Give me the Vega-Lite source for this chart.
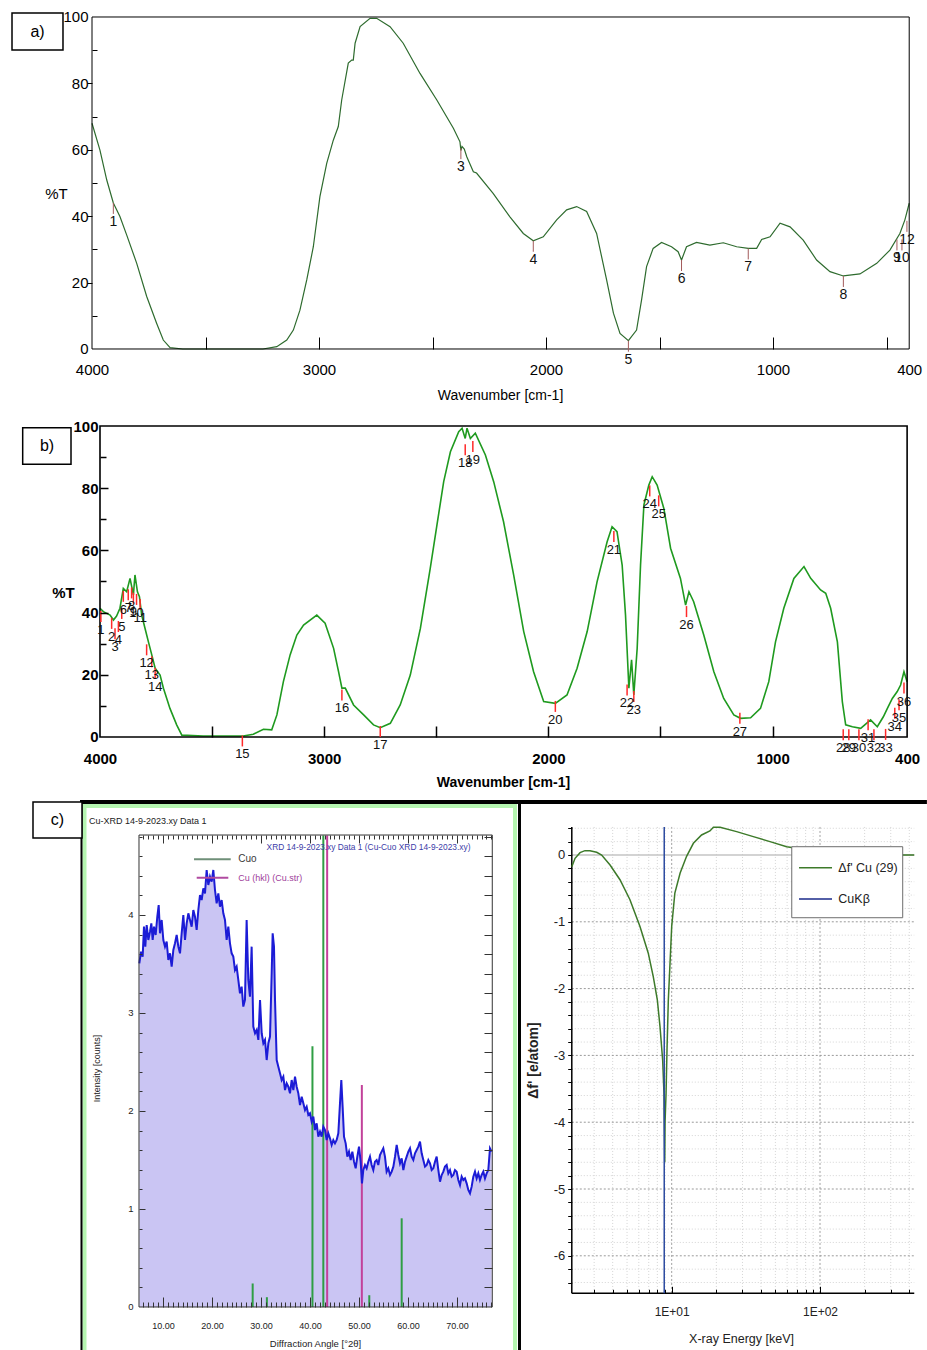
{
"$schema":"https://vega.github.io/schema/vega-lite/v6.json",
"width":927,"height":1350,"autosize":{"type":"none"},"padding":0,"background":"white",
"config":{"view":{"stroke":null},"axis":{"grid":false,"domain":false,"labelFlush":false,"labelOverlap":false,"tickColor":"#000","labelColor":"#000","titleColor":"#000","titleFontWeight":"normal"}},
"datasets":{
"ftirA":[{"wn":4000,"t":68.0},{"wn":3965,"t":59.9},{"wn":3935,"t":50.9},{"wn":3906,"t":44.0},{"wn":3877,"t":39.9},{"wn":3847,"t":34.3},{"wn":3803,"t":25.8},{"wn":3759,"t":15.8},{"wn":3715,"t":7.7},{"wn":3686,"t":2.7},{"wn":3656,"t":0.4},{"wn":3600,"t":0},{"wn":3400,"t":0},{"wn":3247,"t":0},{"wn":3186,"t":0.7},{"wn":3142,"t":2.7},{"wn":3113,"t":5.7},{"wn":3084,"t":11.7},{"wn":3054,"t":20.8},{"wn":3025,"t":30.8},{"wn":2996,"t":45.9},{"wn":2966,"t":55.9},{"wn":2937,"t":62.9},{"wn":2915,"t":67.0},{"wn":2900,"t":75.0},{"wn":2871,"t":86.1},{"wn":2856,"t":87.0},{"wn":2849,"t":87.0},{"wn":2841,"t":92.1},{"wn":2819,"t":97.1},{"wn":2775,"t":99.6},{"wn":2746,"t":99.6},{"wn":2687,"t":97.1},{"wn":2629,"t":92.1},{"wn":2555,"t":83.0},{"wn":2481,"t":75.0},{"wn":2408,"t":66.5},{"wn":2379,"t":62.4},{"wn":2375,"t":59.8},{"wn":2370,"t":61.0},{"wn":2360,"t":60.2},{"wn":2349,"t":57.9},{"wn":2320,"t":53.4},{"wn":2306,"t":53.0},{"wn":2233,"t":46.9},{"wn":2159,"t":39.8},{"wn":2100,"t":34.8},{"wn":2056,"t":32.6},{"wn":2012,"t":33.8},{"wn":1953,"t":38.9},{"wn":1909,"t":41.9},{"wn":1865,"t":42.9},{"wn":1821,"t":41.4},{"wn":1777,"t":34.8},{"wn":1733,"t":20.8},{"wn":1703,"t":10.8},{"wn":1674,"t":4.7},{"wn":1637,"t":2.5},{"wn":1601,"t":5.7},{"wn":1579,"t":14.8},{"wn":1557,"t":24.8},{"wn":1528,"t":30.3},{"wn":1491,"t":32.1},{"wn":1447,"t":30.8},{"wn":1418,"t":29.3},{"wn":1403,"t":26.8},{"wn":1381,"t":30.8},{"wn":1337,"t":32.1},{"wn":1278,"t":31.3},{"wn":1219,"t":32.0},{"wn":1160,"t":30.8},{"wn":1109,"t":30.3},{"wn":1072,"t":30.3},{"wn":1050,"t":33.0},{"wn":1013,"t":33.8},{"wn":969,"t":37.9},{"wn":925,"t":36.8},{"wn":867,"t":32.8},{"wn":808,"t":26.8},{"wn":749,"t":23.3},{"wn":690,"t":22.0},{"wn":617,"t":22.6},{"wn":543,"t":25.8},{"wn":485,"t":29.8},{"wn":441,"t":34.8},{"wn":419,"t":38.9},{"wn":400,"t":43.9}],
"peaksA":[{"n":"1","wn":3906,"t":44.0},{"n":"3","wn":2375,"t":60.5},{"n":"4","wn":2056,"t":32.6},{"n":"5","wn":1637,"t":2.5},{"n":"6","wn":1403,"t":26.8},{"n":"7","wn":1109,"t":30.3},{"n":"8","wn":690,"t":22.0},{"n":"9","wn":454,"t":33.0},{"n":"10","wn":432,"t":33.0},{"n":"12","wn":410,"t":38.6}],
"ftirB":[{"wn":4000,"t":41.4},{"wn":3985,"t":40.3},{"wn":3955,"t":39.2},{"wn":3940,"t":37.6},{"wn":3926,"t":38.9},{"wn":3911,"t":41.4},{"wn":3896,"t":47.8},{"wn":3881,"t":46.7},{"wn":3866,"t":51.0},{"wn":3851,"t":45.7},{"wn":3844,"t":52.1},{"wn":3833,"t":46.7},{"wn":3824,"t":45.1},{"wn":3814,"t":39.2},{"wn":3799,"t":34.9},{"wn":3784,"t":30.6},{"wn":3769,"t":26.4},{"wn":3754,"t":22.1},{"wn":3732,"t":19.9},{"wn":3717,"t":15.7},{"wn":3688,"t":9.2},{"wn":3658,"t":3.9},{"wn":3635,"t":0.6},{"wn":3540,"t":0.3},{"wn":3361,"t":0.3},{"wn":3316,"t":0.9},{"wn":3271,"t":2.5},{"wn":3234,"t":2.3},{"wn":3211,"t":7.1},{"wn":3182,"t":17.8},{"wn":3152,"t":26.4},{"wn":3122,"t":32.8},{"wn":3092,"t":36.0},{"wn":3033,"t":39.2},{"wn":2996,"t":36.6},{"wn":2958,"t":28.5},{"wn":2936,"t":21.0},{"wn":2921,"t":15.7},{"wn":2906,"t":15.7},{"wn":2869,"t":10.3},{"wn":2824,"t":7.1},{"wn":2780,"t":3.9},{"wn":2750,"t":3.0},{"wn":2705,"t":4.4},{"wn":2661,"t":10.3},{"wn":2616,"t":19.9},{"wn":2571,"t":34.9},{"wn":2527,"t":54.2},{"wn":2497,"t":68.2},{"wn":2467,"t":82.1},{"wn":2437,"t":91.7},{"wn":2400,"t":98.2},{"wn":2385,"t":99.3},{"wn":2371,"t":96.0},{"wn":2363,"t":99.3},{"wn":2348,"t":96.0},{"wn":2326,"t":97.7},{"wn":2281,"t":90.7},{"wn":2244,"t":82.1},{"wn":2200,"t":69.2},{"wn":2155,"t":52.1},{"wn":2110,"t":33.9},{"wn":2066,"t":21.0},{"wn":2021,"t":11.4},{"wn":1969,"t":10.8},{"wn":1917,"t":13.5},{"wn":1872,"t":22.1},{"wn":1827,"t":33.9},{"wn":1783,"t":49.9},{"wn":1738,"t":62.8},{"wn":1716,"t":67.6},{"wn":1694,"t":66.0},{"wn":1671,"t":55.3},{"wn":1656,"t":39.2},{"wn":1641,"t":15.7},{"wn":1629,"t":24.8},{"wn":1619,"t":13.5},{"wn":1604,"t":28.5},{"wn":1589,"t":55.3},{"wn":1574,"t":74.6},{"wn":1552,"t":81.0},{"wn":1537,"t":83.7},{"wn":1515,"t":81.0},{"wn":1485,"t":73.5},{"wn":1455,"t":60.7},{"wn":1411,"t":51.0},{"wn":1388,"t":42.4},{"wn":1373,"t":46.7},{"wn":1352,"t":43.5},{"wn":1307,"t":32.8},{"wn":1262,"t":21.0},{"wn":1218,"t":12.4},{"wn":1173,"t":7.1},{"wn":1143,"t":6.0},{"wn":1098,"t":6.2},{"wn":1054,"t":9.2},{"wn":1017,"t":17.8},{"wn":987,"t":30.6},{"wn":950,"t":41.4},{"wn":905,"t":51.0},{"wn":860,"t":54.8},{"wn":830,"t":51.0},{"wn":786,"t":47.3},{"wn":763,"t":46.2},{"wn":741,"t":41.4},{"wn":711,"t":30.6},{"wn":689,"t":11.4},{"wn":674,"t":3.9},{"wn":644,"t":3.3},{"wn":607,"t":2.8},{"wn":563,"t":5.5},{"wn":533,"t":3.3},{"wn":506,"t":6.5},{"wn":488,"t":9.2},{"wn":466,"t":12.4},{"wn":444,"t":14.6},{"wn":429,"t":16.7},{"wn":414,"t":21.0},{"wn":400,"t":17.8}],
"peaksB":[{"n":"1","wn":3996,"t":40.5},{"n":"2","wn":3948,"t":38.3},{"n":"3","wn":3933,"t":35.0},{"n":"4","wn":3918,"t":37.3},{"n":"5","wn":3903,"t":41.5},{"n":"6","wn":3896,"t":47.0},{"n":"7","wn":3874,"t":47.5},{"n":"8","wn":3859,"t":48.1},{"n":"9","wn":3851,"t":46.4},{"n":"10","wn":3837,"t":46.0},{"n":"11","wn":3821,"t":44.4},{"n":"12","wn":3792,"t":29.8},{"n":"13","wn":3769,"t":26.0},{"n":"14","wn":3754,"t":22.3},{"n":"15","wn":3365,"t":0.5},{"n":"16","wn":2921,"t":15.3},{"n":"17","wn":2750,"t":3.5},{"n":"18","wn":2371,"t":94.1},{"n":"19","wn":2337,"t":95.2},{"n":"20","wn":1969,"t":11.6},{"n":"21","wn":1708,"t":66.2},{"n":"22","wn":1649,"t":16.9},{"n":"23","wn":1619,"t":14.8},{"n":"24","wn":1548,"t":80.9},{"n":"25","wn":1508,"t":77.7},{"n":"26","wn":1384,"t":42.1},{"n":"27","wn":1146,"t":7.8},{"n":"28","wn":685,"t":2.5},{"n":"29","wn":660,"t":2.5},{"n":"30","wn":615,"t":2.5},{"n":"31","wn":574,"t":5.7},{"n":"32","wn":548,"t":2.5},{"n":"33","wn":496,"t":2.6},{"n":"34","wn":455,"t":9.4},{"n":"35","wn":436,"t":12.1},{"n":"36","wn":414,"t":17.5}],
"xrd":[{"a":5.17,"i":3.507},{"a":5.51,"i":3.626},{"a":5.85,"i":3.575},{"a":6.12,"i":3.881},{"a":6.39,"i":3.677},{"a":6.67,"i":3.898},{"a":7.01,"i":3.745},{"a":7.35,"i":3.83},{"a":7.62,"i":3.915},{"a":7.89,"i":3.745},{"a":8.16,"i":3.881},{"a":8.5,"i":3.796},{"a":8.84,"i":3.983},{"a":9.12,"i":4.102},{"a":9.39,"i":3.813},{"a":9.73,"i":3.949},{"a":10.07,"i":3.745},{"a":10.41,"i":3.677},{"a":10.75,"i":3.728},{"a":11.09,"i":3.541},{"a":11.43,"i":3.609},{"a":11.77,"i":3.473},{"a":12.11,"i":3.643},{"a":12.45,"i":3.711},{"a":12.79,"i":3.796},{"a":13.13,"i":3.677},{"a":13.47,"i":3.609},{"a":13.81,"i":3.813},{"a":14.15,"i":4.0},{"a":14.49,"i":3.745},{"a":14.83,"i":3.915},{"a":15.17,"i":4.017},{"a":15.51,"i":3.949},{"a":15.85,"i":3.881},{"a":16.19,"i":4.051},{"a":16.53,"i":3.983},{"a":16.87,"i":3.847},{"a":17.21,"i":4.051},{"a":17.55,"i":4.204},{"a":17.89,"i":4.153},{"a":18.23,"i":4.272},{"a":18.57,"i":4.221},{"a":18.91,"i":4.459},{"a":19.25,"i":4.306},{"a":19.59,"i":4.391},{"a":19.93,"i":4.34},{"a":20.27,"i":4.459},{"a":20.61,"i":4.255},{"a":20.95,"i":4.119},{"a":21.29,"i":4.221},{"a":21.63,"i":4.085},{"a":21.97,"i":4.153},{"a":22.31,"i":4.017},{"a":22.65,"i":3.949},{"a":22.99,"i":3.745},{"a":23.33,"i":3.881},{"a":23.67,"i":3.711},{"a":24.01,"i":3.609},{"a":24.35,"i":3.575},{"a":24.69,"i":3.439},{"a":25.03,"i":3.473},{"a":25.37,"i":3.337},{"a":25.71,"i":3.201},{"a":26.05,"i":3.269},{"a":26.39,"i":3.065},{"a":26.73,"i":3.133},{"a":27.07,"i":3.949},{"a":27.41,"i":3.337},{"a":27.75,"i":3.167},{"a":28.09,"i":3.677},{"a":28.43,"i":2.861},{"a":28.78,"i":2.793},{"a":29.12,"i":2.827},{"a":29.46,"i":2.725},{"a":29.8,"i":3.133},{"a":30.14,"i":2.793},{"a":30.48,"i":2.691},{"a":30.82,"i":2.725},{"a":31.16,"i":2.52},{"a":31.5,"i":2.691},{"a":31.84,"i":2.759},{"a":32.18,"i":3.405},{"a":32.38,"i":3.813},{"a":32.65,"i":3.677},{"a":32.86,"i":3.133},{"a":33.2,"i":2.52},{"a":33.54,"i":2.452},{"a":33.88,"i":2.384},{"a":34.22,"i":2.316},{"a":34.56,"i":2.35},{"a":34.9,"i":2.214},{"a":35.24,"i":2.282},{"a":35.58,"i":2.248},{"a":35.92,"i":2.18},{"a":36.26,"i":2.316},{"a":36.6,"i":2.214},{"a":36.94,"i":2.35},{"a":37.28,"i":2.248},{"a":37.62,"i":2.18},{"a":37.96,"i":2.061},{"a":38.3,"i":2.146},{"a":38.64,"i":2.078},{"a":38.98,"i":2.01},{"a":39.32,"i":2.044},{"a":39.66,"i":1.959},{"a":40.0,"i":1.976},{"a":40.34,"i":1.891},{"a":40.68,"i":1.942},{"a":41.02,"i":1.806},{"a":41.36,"i":1.874},{"a":41.7,"i":1.738},{"a":42.04,"i":1.789},{"a":42.38,"i":1.738},{"a":42.72,"i":1.84},{"a":43.06,"i":1.806},{"a":43.4,"i":1.704},{"a":43.74,"i":1.772},{"a":44.08,"i":1.721},{"a":44.42,"i":1.653},{"a":44.76,"i":1.704},{"a":45.1,"i":1.67},{"a":45.44,"i":1.704},{"a":45.78,"i":1.772},{"a":46.12,"i":2.078},{"a":46.39,"i":2.316},{"a":46.66,"i":2.044},{"a":46.94,"i":1.738},{"a":47.28,"i":1.67},{"a":47.62,"i":1.534},{"a":47.96,"i":1.585},{"a":48.3,"i":1.5},{"a":48.64,"i":1.585},{"a":48.98,"i":1.483},{"a":49.32,"i":1.415},{"a":49.66,"i":1.534},{"a":50.0,"i":1.636},{"a":50.34,"i":1.483},{"a":50.61,"i":1.262},{"a":50.88,"i":1.398},{"a":51.22,"i":1.449},{"a":51.56,"i":1.415},{"a":51.9,"i":1.483},{"a":52.24,"i":1.534},{"a":52.58,"i":1.449},{"a":52.92,"i":1.398},{"a":53.26,"i":1.483},{"a":53.6,"i":1.5},{"a":53.94,"i":1.449},{"a":54.28,"i":1.551},{"a":54.62,"i":1.585},{"a":54.96,"i":1.619},{"a":55.3,"i":1.534},{"a":55.64,"i":1.381},{"a":55.98,"i":1.415},{"a":56.33,"i":1.347},{"a":56.67,"i":1.381},{"a":57.01,"i":1.432},{"a":57.35,"i":1.534},{"a":57.69,"i":1.653},{"a":58.03,"i":1.551},{"a":58.37,"i":1.466},{"a":58.71,"i":1.517},{"a":59.05,"i":1.398},{"a":59.39,"i":1.483},{"a":59.73,"i":1.534},{"a":60.07,"i":1.585},{"a":60.41,"i":1.619},{"a":60.75,"i":1.534},{"a":61.09,"i":1.5},{"a":61.43,"i":1.568},{"a":61.77,"i":1.602},{"a":62.11,"i":1.636},{"a":62.45,"i":1.687},{"a":62.79,"i":1.568},{"a":63.13,"i":1.5},{"a":63.47,"i":1.432},{"a":63.81,"i":1.449},{"a":64.15,"i":1.5},{"a":64.49,"i":1.466},{"a":64.83,"i":1.398},{"a":65.17,"i":1.415},{"a":65.51,"i":1.483},{"a":65.85,"i":1.534},{"a":66.19,"i":1.398},{"a":66.53,"i":1.279},{"a":66.87,"i":1.347},{"a":67.21,"i":1.381},{"a":67.55,"i":1.432},{"a":67.89,"i":1.449},{"a":68.23,"i":1.364},{"a":68.57,"i":1.398},{"a":68.91,"i":1.33},{"a":69.25,"i":1.347},{"a":69.59,"i":1.398},{"a":69.93,"i":1.381},{"a":70.27,"i":1.296},{"a":70.61,"i":1.245},{"a":70.95,"i":1.33},{"a":71.29,"i":1.296},{"a":71.63,"i":1.313},{"a":71.97,"i":1.262},{"a":72.31,"i":1.194},{"a":72.65,"i":1.16},{"a":72.99,"i":1.228},{"a":73.33,"i":1.33},{"a":73.67,"i":1.381},{"a":74.01,"i":1.313},{"a":74.35,"i":1.364},{"a":74.69,"i":1.296},{"a":75.03,"i":1.347},{"a":75.37,"i":1.381},{"a":75.71,"i":1.313},{"a":76.05,"i":1.364},{"a":76.39,"i":1.398},{"a":76.73,"i":1.619},{"a":77.07,"i":1.585}],
"sticks":[{"a":28.3,"h":0.24,"p":"Cuo"},{"a":31.2,"h":0.1,"p":"Cuo"},{"a":40.5,"h":2.66,"p":"Cuo"},{"a":42.72,"h":4.81,"p":"Cuo"},{"a":52.1,"h":0.12,"p":"Cuo"},{"a":58.71,"h":0.905,"p":"Cuo"},{"a":43.5,"h":4.81,"p":"Cu"},{"a":50.58,"h":2.265,"p":"Cu"}],
"asf":[{"e":2.12,"f":-0.175},{"e":2.23,"f":-0.05},{"e":2.41,"f":0.035},{"e":2.6,"f":0.065},{"e":2.81,"f":0.065},{"e":3.12,"f":0.04},{"e":3.37,"f":0.0},{"e":3.84,"f":-0.15},{"e":4.48,"f":-0.37},{"e":5.23,"f":-0.67},{"e":6.11,"f":-1.07},{"e":6.95,"f":-1.47},{"e":7.51,"f":-1.82},{"e":8.0,"f":-2.17},{"e":8.34,"f":-2.57},{"e":8.69,"f":-3.07},{"e":8.87,"f":-3.57},{"e":8.95,"f":-4.3},{"e":8.98,"f":-4.6},{"e":9.02,"f":-4.0},{"e":9.16,"f":-3.57},{"e":9.3,"f":-2.9},{"e":9.49,"f":-2.17},{"e":10.0,"f":-1.07},{"e":10.5,"f":-0.57},{"e":11.4,"f":-0.27},{"e":12.6,"f":-0.02},{"e":14.0,"f":0.175},{"e":15.9,"f":0.3},{"e":18.1,"f":0.36},{"e":19.1,"f":0.415},{"e":21.2,"f":0.415},{"e":27.4,"f":0.35},{"e":35.5,"f":0.275},{"e":46.0,"f":0.2},{"e":59.6,"f":0.125},{"e":66.1,"f":0.11},{"e":120,"f":0.04},{"e":200,"f":0.01},{"e":300,"f":0.0},{"e":432,"f":0.0}],
"gridE":[{"e":3,"major":false},{"e":4,"major":false},{"e":5,"major":false},{"e":6,"major":false},{"e":7,"major":false},{"e":8,"major":false},{"e":9,"major":false},{"e":10,"major":true},{"e":20,"major":false},{"e":30,"major":false},{"e":40,"major":false},{"e":50,"major":false},{"e":60,"major":false},{"e":70,"major":false},{"e":80,"major":false},{"e":90,"major":false},{"e":100,"major":true},{"e":200,"major":false},{"e":300,"major":false},{"e":400,"major":false}],
"gridF":[{"f":0.4,"major":false},{"f":0.2,"major":false},{"f":-0.2,"major":false},{"f":-0.4,"major":false},{"f":-0.6,"major":false},{"f":-0.8,"major":false},{"f":-1,"major":true},{"f":-1.2,"major":false},{"f":-1.4,"major":false},{"f":-1.6,"major":false},{"f":-1.8,"major":false},{"f":-2,"major":true},{"f":-2.2,"major":false},{"f":-2.4,"major":false},{"f":-2.6,"major":false},{"f":-2.8,"major":false},{"f":-3,"major":true},{"f":-3.2,"major":false},{"f":-3.4,"major":false},{"f":-3.6,"major":false},{"f":-3.8,"major":false},{"f":-4,"major":true},{"f":-4.2,"major":false},{"f":-4.4,"major":false},{"f":-4.6,"major":false},{"f":-4.8,"major":false},{"f":-5,"major":true},{"f":-5.2,"major":false},{"f":-5.4,"major":false},{"f":-5.6,"major":false},{"f":-5.8,"major":false},{"f":-6,"major":true},{"f":-6.2,"major":false},{"f":-6.4,"major":false}]
},
"resolve":{"scale":{"x":"independent","y":"independent"},"axis":{"x":"independent","y":"independent"}},
"layer":[
{"resolve":{"axis":{"x":"independent","y":"independent"}},
 "layer":[
  {"data":{"name":"ftirA"},"mark":{"type":"line","color":"#2e6b2e","strokeWidth":1.2},
   "encoding":{
    "x":{"field":"wn","type":"quantitative","scale":{"domain":[4405.29,321.6],"nice":false,"zero":false},
     "axis":{"orient":"bottom","offset":-1001,"values":[4000,3000,2000,1000,400],"format":"d","ticks":false,"labelPadding":13,"labelFont":"Liberation Sans, sans-serif","labelFontSize":15,"title":"Wavenumber [cm-1]","titleFont":"Liberation Sans, sans-serif","titleFontSize":14,"titleX":500,"titleY":46,"titleAlign":"center","titleBaseline":"middle","zindex":1}},
    "y":{"field":"t","type":"quantitative","scale":{"domain":[-301.51,105.12],"nice":false,"zero":false},
     "axis":{"orient":"left","offset":-92,"values":[0,20,40,60,80,100],"format":"d","ticks":false,"labelPadding":4,"labelFont":"Liberation Sans, sans-serif","labelFontSize":15,"title":"%T","titleFont":"Liberation Sans, sans-serif","titleFontSize":15,"titleAngle":0,"titleX":-36,"titleY":193,"titleAlign":"center","titleBaseline":"middle","zindex":1}}}},
  {"data":{"values":[{}]},"mark":{"type":"rect","filled":false,"color":"#000","strokeWidth":1},
   "encoding":{
    "x":{"datum":4000,"type":"quantitative","axis":{"orient":"bottom","offset":-1001,"values":[3500,3000,2500,2000,1500,1000,500],"labels":false,"tickSize":-12,"title":null,"zindex":1}},
    "x2":{"datum":400},
    "y":{"datum":0,"type":"quantitative","axis":{"orient":"left","offset":-92,"values":[10,20,30,40,50,60,70,80,90],"labels":false,"tickSize":{"condition":{"test":"datum.value % 20 === 0","value":5},"value":-5},"title":null,"zindex":1}},
    "y2":{"datum":100}}},
  {"data":{"name":"peaksA"},"mark":{"type":"rule","color":"#a35b5b","strokeWidth":1,"y2Offset":11},
   "encoding":{"x":{"field":"wn","type":"quantitative","axis":null},"y":{"field":"t","type":"quantitative","axis":null},"y2":{"field":"t"}}},
  {"data":{"name":"peaksA"},"mark":{"type":"text","dy":19,"font":"Liberation Sans, sans-serif","fontSize":14,"color":"#111"},
   "encoding":{"x":{"field":"wn","type":"quantitative","axis":null},"y":{"field":"t","type":"quantitative","axis":null},"text":{"field":"n"}}},
  {"data":{"values":[{}]},"mark":{"type":"rect","fill":"white","stroke":"#000","strokeWidth":1.5},
   "encoding":{"x":{"datum":4352.4,"type":"quantitative","axis":null},"x2":{"datum":4127.8},"y":{"datum":101.2,"type":"quantitative","axis":null},"y2":{"datum":90.06}}},
  {"data":{"values":[{}]},"mark":{"type":"text","text":"a)","font":"Liberation Sans, sans-serif","fontSize":16,"color":"#000"},
   "encoding":{"x":{"datum":4240,"type":"quantitative","axis":null},"y":{"datum":95.5,"type":"quantitative","axis":null}}}
 ]},
{"resolve":{"axis":{"x":"independent","y":"independent"}},
 "layer":[
  {"data":{"name":"ftirB"},"mark":{"type":"line","color":"#1f9a1f","strokeWidth":1.6},
   "encoding":{
    "x":{"field":"wn","type":"quantitative","scale":{"domain":[4446.0,311.3],"nice":false,"zero":false},
     "axis":{"orient":"bottom","offset":-613,"values":[4000,3000,2000,1000,400],"format":"d","ticks":false,"labelPadding":14,"labelFont":"Liberation Sans, sans-serif","labelFontSize":15,"labelFontWeight":"bold","title":"Wavenumber [cm-1]","titleFont":"Liberation Sans, sans-serif","titleFontSize":14,"titleFontWeight":"bold","titleX":503,"titleY":45,"titleAlign":"center","titleBaseline":"middle","zindex":1}},
    "y":{"field":"t","type":"quantitative","scale":{"domain":[-197.11,236.98],"nice":false,"zero":false},
     "axis":{"orient":"left","offset":-100,"values":[0,20,40,60,80,100],"format":"d","ticks":false,"labelPadding":2,"labelFont":"Liberation Sans, sans-serif","labelFontSize":15,"labelFontWeight":"bold","title":"%T","titleFont":"Liberation Sans, sans-serif","titleFontSize":15,"titleFontWeight":"bold","titleAngle":0,"titleX":-37,"titleY":592,"titleAlign":"center","titleBaseline":"middle","zindex":1}}}},
  {"data":{"values":[{}]},"mark":{"type":"rect","filled":false,"color":"#000","strokeWidth":1.6},
   "encoding":{
    "x":{"datum":4000,"type":"quantitative","axis":{"orient":"bottom","offset":-613,"values":[3500,3000,2500,2000,1500,1000],"labels":false,"tickSize":-11,"tickWidth":1.5,"title":null,"zindex":1}},
    "x2":{"datum":400},
    "y":{"datum":0,"type":"quantitative","axis":{"orient":"left","offset":-100,"values":[10,20,30,40,50,60,70,80,90],"labels":false,"tickWidth":1.5,"tickSize":{"condition":{"test":"datum.value % 20 === 0","value":-8},"value":-6},"title":null,"zindex":1}},
    "y2":{"datum":100}}},
  {"data":{"name":"peaksB"},"mark":{"type":"rule","color":"#ff2a2a","strokeWidth":1.5,"y2Offset":11},
   "encoding":{"x":{"field":"wn","type":"quantitative","axis":null},"y":{"field":"t","type":"quantitative","axis":null},"y2":{"field":"t"}}},
  {"data":{"name":"peaksB"},"mark":{"type":"text","dy":19,"font":"Liberation Sans, sans-serif","fontSize":13,"color":"#111"},
   "encoding":{"x":{"field":"wn","type":"quantitative","axis":null},"y":{"field":"t","type":"quantitative","axis":null},"text":{"field":"n"}}},
  {"data":{"values":[{}]},"mark":{"type":"rect","fill":"white","stroke":"#000","strokeWidth":1.5},
   "encoding":{"x":{"datum":4344.8,"type":"quantitative","axis":null},"x2":{"datum":4129.3},"y":{"datum":99.45,"type":"quantitative","axis":null},"y2":{"datum":87.69}}},
  {"data":{"values":[{}]},"mark":{"type":"text","text":"b)","font":"Liberation Sans, sans-serif","fontSize":16,"color":"#000"},
   "encoding":{"x":{"datum":4236.4,"type":"quantitative","axis":null},"y":{"datum":93.57,"type":"quantitative","axis":null}}}
 ]},
{"resolve":{"axis":{"x":"independent","y":"independent"}},
 "layer":[
  {"data":{"name":"xrd"},"mark":{"type":"area","color":"#cac5f3","opacity":1},
   "encoding":{
    "x":{"field":"a","type":"quantitative","scale":{"domain":[-23.265,165.918],"nice":false,"zero":false},
     "axis":{"orient":"bottom","offset":-43,"values":[10,20,30,40,50,60,70],"format":".2f","ticks":false,"labelPadding":14,"labelFont":"Liberation Sans, sans-serif","labelFontSize":9,"labelColor":"#222","title":"Diffraction Angle [°2θ]","titleFont":"Liberation Sans, sans-serif","titleFontSize":9.5,"titleColor":"#222","titleX":315,"titleY":36,"titleAlign":"center","titleBaseline":"middle","zindex":1}},
    "y":{"field":"i","type":"quantitative","scale":{"domain":[-0.4388,13.3367],"nice":false,"zero":false},
     "axis":{"orient":"left","offset":-139,"values":[0,1,2,3,4],"ticks":false,"labelPadding":6,"labelFont":"Liberation Sans, sans-serif","labelFontSize":9.5,"labelColor":"#222","title":"Intensity [counts]","titleFont":"Liberation Sans, sans-serif","titleFontSize":9,"titleColor":"#222","titleX":-43,"titleY":1068,"titleAlign":"center","titleBaseline":"middle","zindex":1}}}},
  {"data":{"name":"sticks"},"transform":[{"filter":"datum.p === 'Cuo'"}],"mark":{"type":"rule","color":"#2f9e44","strokeWidth":2},
   "encoding":{"x":{"field":"a","type":"quantitative","axis":null},"y":{"field":"h","type":"quantitative","axis":null},"y2":{"datum":0}}},
  {"data":{"name":"sticks"},"transform":[{"filter":"datum.p === 'Cu'"}],"mark":{"type":"rule","color":"#c2419a","strokeWidth":2},
   "encoding":{"x":{"field":"a","type":"quantitative","axis":null},"y":{"field":"h","type":"quantitative","axis":null},"y2":{"datum":0}}},
  {"data":{"name":"xrd"},"mark":{"type":"line","color":"#1c1cd6","strokeWidth":2},
   "encoding":{
    "x":{"field":"a","type":"quantitative","axis":{"orient":"bottom","offset":-43,"values":[6,7,8,9,10,11,12,13,14,15,16,17,18,19,20,21,22,23,24,25,26,27,28,29,30,31,32,33,34,35,36,37,38,39,40,41,42,43,44,45,46,47,48,49,50,51,52,53,54,55,56,57,58,59,60,61,62,63,64,65,66,67,68,69,70,71,72,73,74,75,76,77],"labels":false,"tickColor":"#333","tickSize":{"condition":{"test":"datum.value % 10 === 0","value":-10},"value":-5},"title":null,"zindex":1}},
    "y":{"field":"i","type":"quantitative","axis":{"orient":"left","offset":-139,"values":[0.2,0.4,0.6,0.8,1,1.2,1.4,1.6,1.8,2,2.2,2.4,2.6,2.8,3,3.2,3.4,3.6,3.8,4,4.2,4.4,4.6,4.8],"labels":false,"tickColor":"#333","tickSize":{"condition":{"test":"datum.value % 1 === 0","value":-6},"value":-3},"title":null,"zindex":1}}}},
  {"data":{"values":[{}]},"mark":{"type":"rect","filled":false,"color":"#333","strokeWidth":1},
   "encoding":{
    "x":{"datum":5.1,"type":"quantitative","axis":{"orient":"top","offset":-835,"values":[6,7,8,9,10,11,12,13,14,15,16,17,18,19,20,21,22,23,24,25,26,27,28,29,30,31,32,33,34,35,36,37,38,39,40,41,42,43,44,45,46,47,48,49,50,51,52,53,54,55,56,57,58,59,60,61,62,63,64,65,66,67,68,69,70,71,72,73,74,75,76,77],"labels":false,"tickColor":"#333","tickSize":{"condition":{"test":"datum.value % 10 === 0","value":-8},"value":-4},"title":null,"zindex":1}},
    "x2":{"datum":77.2},
    "y":{"datum":0,"type":"quantitative","axis":{"orient":"right","offset":-435,"values":[0.2,0.4,0.6,0.8,1,1.2,1.4,1.6,1.8,2,2.2,2.4,2.6,2.8,3,3.2,3.4,3.6,3.8,4,4.2,4.4,4.6,4.8],"labels":false,"tickColor":"#333","tickSize":-8,"title":null,"zindex":1}},
    "y2":{"datum":4.816}}},
  {"data":{"values":[{}]},"mark":{"type":"rule","color":"#6f8f78","strokeWidth":2},
   "encoding":{"x":{"datum":16.33,"type":"quantitative","axis":null},"x2":{"datum":23.82},"y":{"datum":4.568,"type":"quantitative","axis":null}}},
  {"data":{"values":[{}]},"mark":{"type":"rule","color":"#b04aa0","strokeWidth":2},
   "encoding":{"x":{"datum":16.88,"type":"quantitative","axis":null},"x2":{"datum":23.33},"y":{"datum":4.381,"type":"quantitative","axis":null}}},
  {"data":{"values":[{}]},"mark":{"type":"text","text":"Cuo","align":"left","font":"Liberation Sans, sans-serif","fontSize":10,"color":"#3a3a3a"},
   "encoding":{"x":{"datum":25.37,"type":"quantitative","axis":null},"y":{"datum":4.568,"type":"quantitative","axis":null}}},
  {"data":{"values":[{}]},"mark":{"type":"text","text":"Cu (hkl) (Cu.str)","align":"left","font":"Liberation Sans, sans-serif","fontSize":9,"color":"#a0409a"},
   "encoding":{"x":{"datum":25.37,"type":"quantitative","axis":null},"y":{"datum":4.381,"type":"quantitative","axis":null}}},
  {"data":{"values":[{}]},"mark":{"type":"text","text":"XRD 14-9-2023.xy Data 1 (Cu-Cuo XRD 14-9-2023.xy)","align":"center","font":"Liberation Sans, sans-serif","fontSize":8.4,"color":"#3c3ca8"},
   "encoding":{"x":{"datum":51.94,"type":"quantitative","axis":null},"y":{"datum":4.694,"type":"quantitative","axis":null}}},
  {"data":{"values":[{}]},"mark":{"type":"text","text":"Cu-XRD 14-9-2023.xy Data 1","align":"left","font":"Liberation Sans, sans-serif","fontSize":9,"color":"#222"},
   "encoding":{"x":{"datum":-5.1,"type":"quantitative","axis":null},"y":{"datum":4.962,"type":"quantitative","axis":null}}},
  {"data":{"values":[{}]},"mark":{"type":"rect","filled":false,"color":"#b5f5b0","strokeWidth":4},
   "encoding":{"x":{"datum":-6.02,"type":"quantitative","axis":null},"x2":{"datum":81.837},"y":{"datum":5.112,"type":"quantitative","axis":null},"y2":{"datum":-0.48}}},
  {"data":{"values":[{}]},"mark":{"type":"rule","color":"#000","strokeWidth":2},
   "encoding":{"x":{"datum":-6.633,"type":"quantitative","axis":null},"y":{"datum":5.163,"type":"quantitative","axis":null},"y2":{"datum":-0.45}}},
  {"data":{"values":[{}]},"mark":{"type":"rule","color":"#000","strokeWidth":3},
   "encoding":{"x":{"datum":82.755,"type":"quantitative","axis":null},"y":{"datum":5.163,"type":"quantitative","axis":null},"y2":{"datum":-0.45}}},
  {"data":{"values":[{}]},"mark":{"type":"rule","color":"#000","strokeWidth":4},
   "encoding":{"x":{"datum":-6.939,"type":"quantitative","axis":null},"x2":{"datum":165.9},"y":{"datum":5.153,"type":"quantitative","axis":null}}},
  {"data":{"values":[{}]},"mark":{"type":"rect","fill":"white","stroke":"#000","strokeWidth":1.5},
   "encoding":{"x":{"datum":-16.531,"type":"quantitative","axis":null},"x2":{"datum":-6.531},"y":{"datum":5.153,"type":"quantitative","axis":null},"y2":{"datum":4.786}}},
  {"data":{"values":[{}]},"mark":{"type":"text","text":"c)","font":"Liberation Sans, sans-serif","fontSize":16,"color":"#000"},
   "encoding":{"x":{"datum":-11.531,"type":"quantitative","axis":null},"y":{"datum":4.969,"type":"quantitative","axis":null}}}
 ]},
{"resolve":{"axis":{"x":"independent","y":"independent"}},
 "layer":[
  {"data":{"name":"gridE"},"transform":[{"filter":"!datum.major"}],"mark":{"type":"rule","color":"#d4d4d4","strokeWidth":1,"strokeDash":[1,2]},
   "encoding":{
    "x":{"field":"e","type":"quantitative","scale":{"type":"log","domain":[0.0002956,526.6],"nice":false},
     "axis":{"orient":"bottom","offset":-56.7,"values":[10,100],"labelExpr":"datum.value === 10 ? '1E+01' : '1E+02'","ticks":false,"labelPadding":13,"labelFont":"Liberation Sans, sans-serif","labelFontSize":12,"labelColor":"#222","title":"X-ray Energy [keV]","titleFont":"Liberation Sans, sans-serif","titleFontSize":12.5,"titleColor":"#222","titleX":741,"titleY":45,"titleAlign":"center","titleBaseline":"middle","zindex":1}},
    "y":{"datum":0.42,"type":"quantitative","scale":{"domain":[-7.41,12.799],"nice":false,"zero":false},
     "axis":{"orient":"left","offset":-571.7,"values":[-6,-5,-4,-3,-2,-1,0],"labelExpr":"'' + datum.value","ticks":false,"labelPadding":7,"labelFont":"Liberation Sans, sans-serif","labelFontSize":13,"labelColor":"#222","title":"Δf' [e/atom]","titleFont":"Liberation Sans, sans-serif","titleFontSize":14,"titleFontWeight":"bold","titleColor":"#222","titleX":-38,"titleY":1060,"titleAlign":"center","titleBaseline":"middle","zindex":1}},
    "y2":{"datum":-6.56}}},
  {"data":{"name":"gridE"},"transform":[{"filter":"datum.major"}],"mark":{"type":"rule","color":"#a0a0a0","strokeWidth":1,"strokeDash":[2,2]},
   "encoding":{
    "x":{"field":"e","type":"quantitative","axis":{"orient":"bottom","offset":-56.7,"values":[3,4,5,6,7,8,9,10,20,30,40,50,60,70,80,90,100,200,300,400],"labels":false,"tickSize":{"condition":{"test":"datum.value === 10 || datum.value === 100","value":-7},"value":-4},"title":null,"zindex":1}},
    "y":{"datum":0.42,"type":"quantitative","axis":{"orient":"left","offset":-571.7,"values":[0.4,0.2,0,-0.2,-0.4,-0.6,-0.8,-1,-1.2,-1.4,-1.6,-1.8,-2,-2.2,-2.4,-2.6,-2.8,-3,-3.2,-3.4,-3.6,-3.8,-4,-4.2,-4.4,-4.6,-4.8,-5,-5.2,-5.4,-5.6,-5.8,-6,-6.2,-6.4],"labels":false,"tickSize":4,"title":null,"zindex":1}},
    "y2":{"datum":-6.56}}},
  {"data":{"name":"gridF"},"transform":[{"filter":"!datum.major"}],"mark":{"type":"rule","color":"#d4d4d4","strokeWidth":1,"strokeDash":[1,2]},
   "encoding":{"x":{"datum":2.12,"type":"quantitative","axis":null},"x2":{"datum":432},"y":{"field":"f","type":"quantitative","axis":null}}},
  {"data":{"name":"gridF"},"transform":[{"filter":"datum.major"}],"mark":{"type":"rule","color":"#9a9a9a","strokeWidth":1,"strokeDash":[2,2]},
   "encoding":{"x":{"datum":2.12,"type":"quantitative","axis":null},"x2":{"datum":432},"y":{"field":"f","type":"quantitative","axis":null}}},
  {"data":{"values":[{}]},"mark":{"type":"rule","color":"#c4c4c4","strokeWidth":1.5},
   "encoding":{"x":{"datum":2.12,"type":"quantitative","axis":null},"x2":{"datum":432},"y":{"datum":0,"type":"quantitative","axis":null}}},
  {"data":{"values":[{}]},"mark":{"type":"rule","color":"#000","strokeWidth":1.5},
   "encoding":{"x":{"datum":2.12,"type":"quantitative","axis":null},"y":{"datum":0.42,"type":"quantitative","axis":null},"y2":{"datum":-6.56}}},
  {"data":{"values":[{}]},"mark":{"type":"rule","color":"#000","strokeWidth":1.5},
   "encoding":{"x":{"datum":2.12,"type":"quantitative","axis":null},"x2":{"datum":432},"y":{"datum":-6.56,"type":"quantitative","axis":null}}},
  {"data":{"name":"asf"},"mark":{"type":"line","color":"#3d7a2a","strokeWidth":1.5},
   "encoding":{"x":{"field":"e","type":"quantitative","axis":null},"y":{"field":"f","type":"quantitative","axis":null}}},
  {"data":{"values":[{}]},"mark":{"type":"rule","color":"#2b4aa0","strokeWidth":1.5},
   "encoding":{"x":{"datum":8.905,"type":"quantitative","axis":null},"y":{"datum":0.42,"type":"quantitative","axis":null},"y2":{"datum":-6.56}}},
  {"data":{"values":[{}]},"mark":{"type":"rect","fill":"white","stroke":"#6d6d6d","strokeWidth":1},
   "encoding":{"x":{"datum":64.5,"type":"quantitative","axis":null},"x2":{"datum":361.2},"y":{"datum":0.124,"type":"quantitative","axis":null},"y2":{"datum":-0.939}}},
  {"data":{"values":[{}]},"mark":{"type":"rule","color":"#3d7a2a","strokeWidth":1.5},
   "encoding":{"x":{"datum":72.2,"type":"quantitative","axis":null},"x2":{"datum":120.5},"y":{"datum":-0.19,"type":"quantitative","axis":null}}},
  {"data":{"values":[{}]},"mark":{"type":"rule","color":"#1a2a8a","strokeWidth":1.5},
   "encoding":{"x":{"datum":72.2,"type":"quantitative","axis":null},"x2":{"datum":120.5},"y":{"datum":-0.659,"type":"quantitative","axis":null}}},
  {"data":{"values":[{}]},"mark":{"type":"text","text":"Δf' Cu (29)","align":"left","font":"Liberation Sans, sans-serif","fontSize":12.5,"color":"#222"},
   "encoding":{"x":{"datum":132.9,"type":"quantitative","axis":null},"y":{"datum":-0.19,"type":"quantitative","axis":null}}},
  {"data":{"values":[{}]},"mark":{"type":"text","text":"CuKβ","align":"left","font":"Liberation Sans, sans-serif","fontSize":12.5,"color":"#222"},
   "encoding":{"x":{"datum":132.9,"type":"quantitative","axis":null},"y":{"datum":-0.659,"type":"quantitative","axis":null}}}
 ]}
]
}
